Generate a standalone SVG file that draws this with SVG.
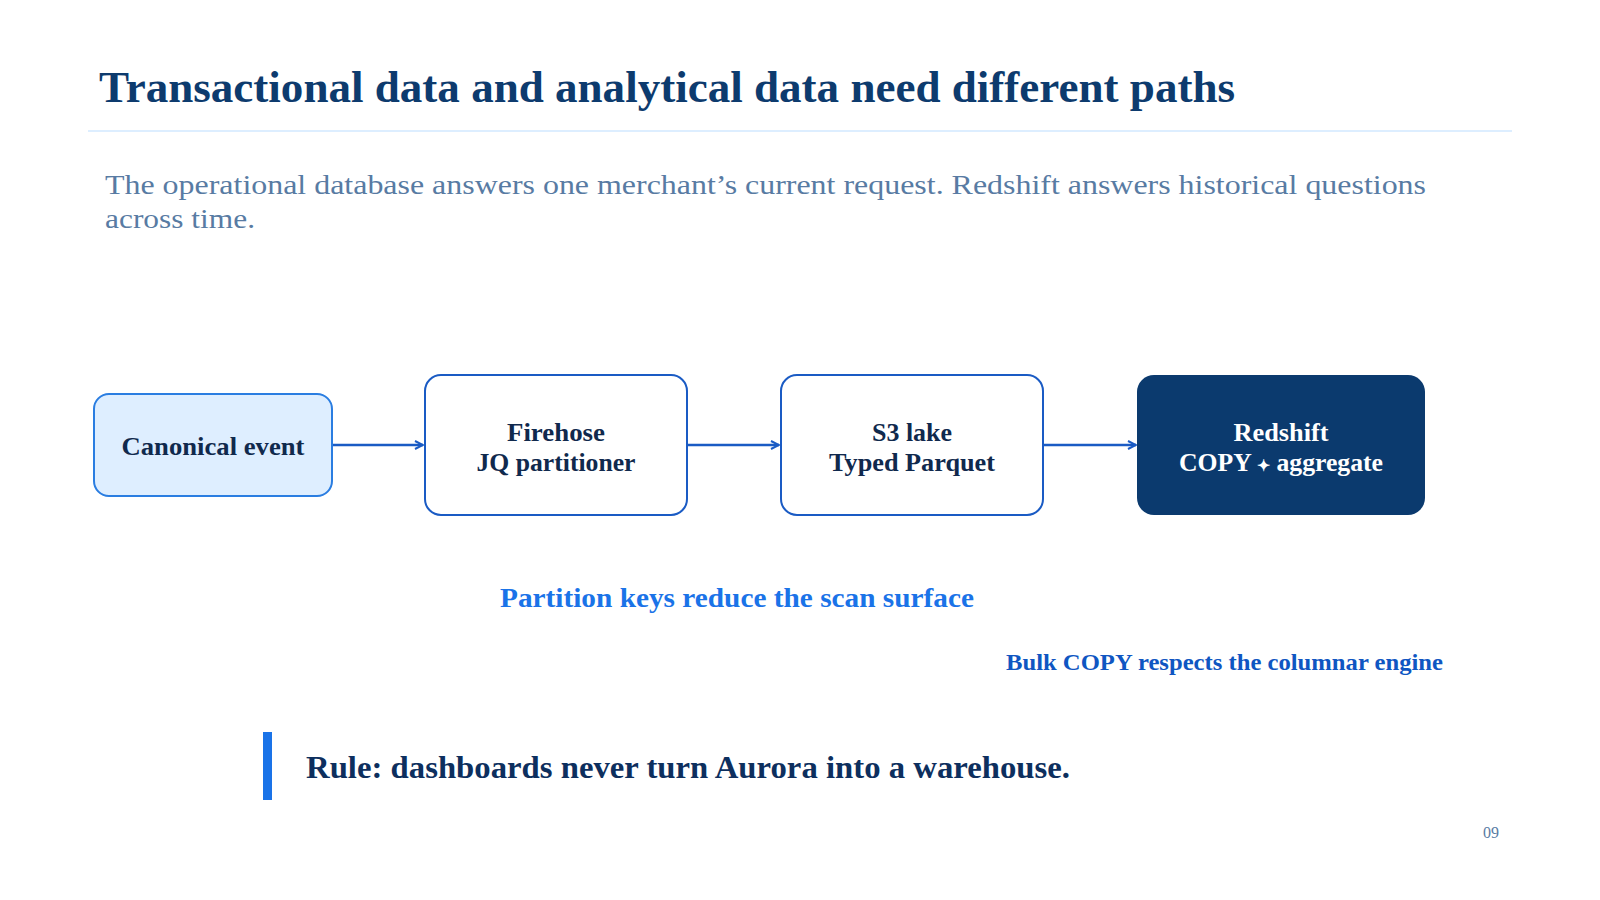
<svg xmlns="http://www.w3.org/2000/svg" width="1600" height="900" viewBox="0 0 1600 900">
  <defs>
    <marker id="arr" viewBox="0 0 10 10" refX="9" refY="5" markerWidth="10" markerHeight="10" markerUnits="userSpaceOnUse" orient="auto">
      <path d="M1,1 L9,5 L1,9" fill="none" stroke="#1a5bc4" stroke-width="2"/>
    </marker>
    <style>
      .serif { font-family: "Liberation Serif", "DejaVu Serif", serif; }
      .title { font-size: 44px; font-weight: bold; fill: #0d3b6e; }
      .sub { font-size: 28px; fill: #587ba3; }
      .node-text { font-size: 26px; font-weight: bold; fill: #10294d; text-anchor: middle; }
      .node-text-light { font-size: 26px; font-weight: bold; fill: #ffffff; text-anchor: middle; }
      .box { fill: #ffffff; stroke: #1a5bc4; stroke-width: 2; }
      .conn { stroke: #1a5bc4; stroke-width: 2.5; fill: none; }
    </style>
  </defs>
  <rect width="1600" height="900" fill="#ffffff"/>

  <text class="serif title" x="99" y="102" textLength="1136" lengthAdjust="spacingAndGlyphs">Transactional data and analytical data need different paths</text>
  <line x1="88" y1="131" x2="1512" y2="131" stroke="#ddeeff" stroke-width="2"/>

  <text class="serif sub" x="105" y="194" textLength="1321" lengthAdjust="spacingAndGlyphs">The operational database answers one merchant’s current request. Redshift answers historical questions</text>
  <text class="serif sub" x="105" y="228" textLength="150" lengthAdjust="spacingAndGlyphs">across time.</text>

  <g id="connectors">
    <line class="conn" x1="332" y1="445" x2="423" y2="445" marker-end="url(#arr)"/>
    <line class="conn" x1="687" y1="445" x2="779" y2="445" marker-end="url(#arr)"/>
    <line class="conn" x1="1043" y1="445" x2="1136" y2="445" marker-end="url(#arr)"/>
  </g>

  <g id="node-canonical">
    <rect x="94" y="394" width="238" height="102" rx="15" fill="#deeeff" stroke="#2a7de1" stroke-width="2"/>
    <text class="serif node-text" x="213" y="455" textLength="183" lengthAdjust="spacingAndGlyphs">Canonical event</text>
  </g>

  <g id="node-firehose">
    <rect class="box" x="425" y="375" width="262" height="140" rx="16"/>
    <text class="serif node-text" x="556" y="441" textLength="98" lengthAdjust="spacingAndGlyphs">Firehose</text>
    <text class="serif node-text" x="556" y="471" textLength="159" lengthAdjust="spacingAndGlyphs">JQ partitioner</text>
  </g>

  <g id="node-s3">
    <rect class="box" x="781" y="375" width="262" height="140" rx="16"/>
    <text class="serif node-text" x="912" y="441" textLength="80" lengthAdjust="spacingAndGlyphs">S3 lake</text>
    <text class="serif node-text" x="912" y="471" textLength="166" lengthAdjust="spacingAndGlyphs">Typed Parquet</text>
  </g>

  <g id="node-redshift">
    <rect x="1137" y="375" width="288" height="140" rx="17" fill="#0b3a6e"/>
    <text class="serif node-text-light" x="1281" y="441" textLength="95" lengthAdjust="spacingAndGlyphs">Redshift</text>
    <text class="serif node-text-light" x="1281" y="471" textLength="204" lengthAdjust="spacingAndGlyphs">COPY <tspan font-size="16">✦</tspan> aggregate</text>
  </g>

  <text class="serif" x="500" y="607" font-size="27" font-weight="bold" fill="#1a73e8" textLength="474" lengthAdjust="spacingAndGlyphs">Partition keys reduce the scan surface</text>
  <text class="serif" x="1006" y="670" font-size="23" font-weight="bold" fill="#0f56c2" textLength="437" lengthAdjust="spacingAndGlyphs">Bulk COPY respects the columnar engine</text>

  <rect x="263" y="732" width="9" height="68" fill="#1a73e8"/>
  <text class="serif" x="306" y="778" font-size="31" font-weight="bold" fill="#0d2f5e" textLength="764" lengthAdjust="spacingAndGlyphs">Rule: dashboards never turn Aurora into a warehouse.</text>

  <text class="serif" x="1483" y="838" font-size="16" fill="#587ba3">09</text>
</svg>
